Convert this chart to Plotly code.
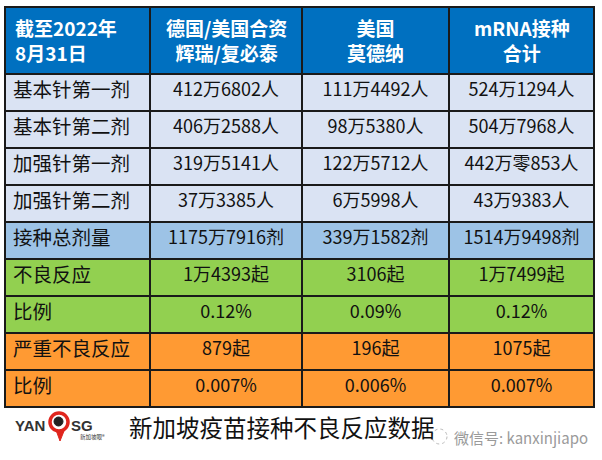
import plotly.graph_objects as go

header = ["截至2022年<br>8月31日", "德国/美国合资<br>辉瑞/复必泰", "美国<br>莫德纳", "mRNA接种<br>合计"]
row_labels = ["基本针第一剂", "基本针第二剂", "加强针第一剂", "加强针第二剂", "接种总剂量",
              "不良反应", "比例", "严重不良反应", "比例"]
pfizer = ["412万6802人", "406万2588人", "319万5141人", "37万3385人", "1175万7916剂",
          "1万4393起", "0.12%", "879起", "0.007%"]
moderna = ["111万4492人", "98万5380人", "122万5712人", "6万5998人", "339万1582剂",
           "3106起", "0.09%", "196起", "0.006%"]
total = ["524万1294人", "504万7968人", "442万零853人", "43万9383人", "1514万9498剂",
         "1万7499起", "0.12%", "1075起", "0.007%"]
row_groups = ["dose", "dose", "dose", "dose", "total", "adverse", "adverse", "severe", "severe"]

caption = "新加坡疫苗接种不良反应数据"
watermark = "微信号: kanxinjiapo"

group_color = {"dose": "#DAE3F3", "total": "#9DC3E6", "adverse": "#92D050", "severe": "#FF9A33"}
row_fill = [group_color[g] for g in row_groups]

W, H = 602, 460
top, header_h, row_h = 7, 67, 37.0
left, right = 5, 594
colw = [145, 152, 147, 145]
FONT = "Noto Sans CJK SC"

fig = go.Figure(go.Table(
    domain=dict(x=[left / W, right / W], y=[0, 1 - top / H]),
    columnwidth=colw,
    header=dict(
        values=["", "", "", ""],
        fill_color="#0070C0",
        line=dict(color="#1a1a1a", width=1.5),
        height=header_h,
    ),
    cells=dict(
        values=[row_labels, pfizer, moderna, total],
        fill_color=[row_fill] * 4,
        line=dict(color="#1a1a1a", width=1.5),
        font=dict(family=FONT, size=[19.5, 18, 18, 18], color="#111111"),
        align=["left", "center", "center", "center"],
        height=row_h,
    ),
))

# header labels placed in the header cells
tw = right - left
scale = tw / sum(colw)
annotations = []
x0 = left
for i, (lab, w) in enumerate(zip(header, colw)):
    pw = w * scale
    if i == 0:
        ax, anc = x0 + 8, "left"
    else:
        ax, anc = x0 + pw / 2, "center"
    annotations.append(dict(text=f"<b>{lab}</b>", x=ax / W, y=1 - (top + header_h / 2) / H,
                            xanchor=anc, yanchor="middle", align=anc,
                            font=dict(family=FONT, size=19, color="white")))
    x0 += pw

annotations += [
    dict(text=caption, x=127 / W, y=1 - 427 / H, xanchor="left", yanchor="middle",
         font=dict(family=FONT, size=23.5, color="#111111")),
    dict(text=watermark, x=452 / W, y=1 - 437 / H, xanchor="left", yanchor="middle",
         font=dict(family=FONT, size=15, color="#9a9a9a")),
    dict(text="<b>YAN</b>", x=13 / W, y=1 - 425 / H, xanchor="left", yanchor="middle",
         font=dict(family="Liberation Sans", size=15, color="#333333")),
    dict(text="<b>SG</b>", x=69 / W, y=1 - 425 / H, xanchor="left", yanchor="middle",
         font=dict(family="Liberation Sans", size=15, color="#333333")),
    dict(text="新加坡眼®", x=78 / W, y=1 - 437 / H, xanchor="left", yanchor="middle",
         font=dict(family=FONT, size=5.5, color="#333333")),
]
for a in annotations:
    a.update(xref="paper", yref="paper", showarrow=False)

shapes = [
    dict(type="path", xref="paper", yref="paper",
         path=f"M {56/W} {1-430/H} L {60/W} {1-441/H} L {64/W} {1-431/H} Z",
         line=dict(color="#E0261E", width=1), fillcolor="#E0261E"),
    dict(type="circle", xref="paper", yref="paper",
         x0=50 / W, x1=68 / W, y0=1 - 431 / H, y1=1 - 413 / H,
         line=dict(color="#E0261E", width=3.5), fillcolor="white"),
    dict(type="circle", xref="paper", yref="paper",
         x0=54 / W, x1=63 / W, y0=1 - 426 / H, y1=1 - 417 / H,
         line=dict(color="#222222", width=1), fillcolor="#222222"),
    dict(type="circle", xref="paper", yref="paper",
         x0=432 / W, x1=447 / W, y0=1 - 444 / H, y1=1 - 429 / H,
         line=dict(color="#bbbbbb", width=1, dash="dot")),
]

fig.update_layout(
    width=W, height=H,
    margin=dict(l=0, r=0, t=0, b=0),
    paper_bgcolor="white",
    plot_bgcolor="white",
    annotations=annotations,
    shapes=shapes,
)

fig.write_html("out.html", config={"displayModeBar": False},
               post_script="document.body.style.margin='0';")
